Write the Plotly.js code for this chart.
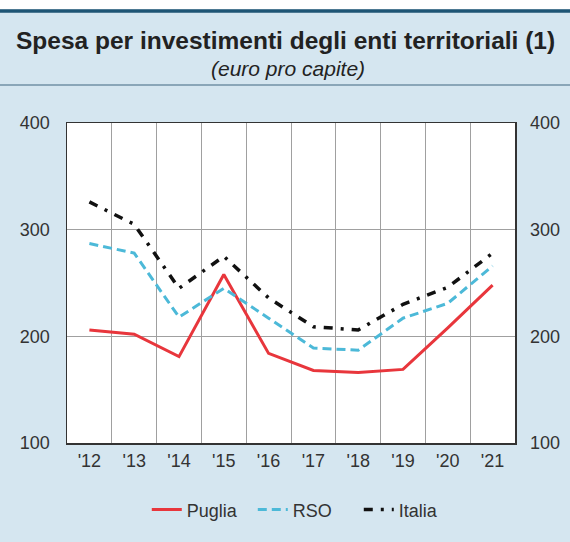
<!DOCTYPE html>
<html>
<head>
<meta charset="utf-8">
<script src="https://cdn.plot.ly/plotly-3.0.1.min.js"></script>
<style>html,body{margin:0;padding:0;background:#fff;}#chart{width:570px;height:542px;}</style>
</head>
<body>
<div id="chart"></div>
<script>
const years = ["'12","'13","'14","'15","'16","'17","'18","'19","'20","'21"];
const puglia = [206, 202, 181, 258, 184, 168, 166, 169, 208, 248];
const rso    = [287, 278, 218, 245, 217, 189, 187, 217, 231, 266];
const italia = [326, 305, 245, 275, 236, 209, 206, 230, 246, 278];
const yTicks = [100, 200, 300, 400];

const font = "Liberation Sans, Arial, sans-serif";
const traces = [
  {x: years, y: puglia, name: 'Puglia', mode: 'lines', line: {color: '#e8363c', width: 3}},
  {x: years, y: rso, name: 'RSO', mode: 'lines', line: {color: '#4cb9d8', width: 3, dash: '9px,5px'}},
  {x: years, y: italia, name: 'Italia', mode: 'lines', line: {color: '#111111', width: 3.5, dash: '9px,8px,3px,8px'}},
  {x: years, y: italia, yaxis: 'y2', mode: 'lines', showlegend: false, hoverinfo: 'skip', line: {color: 'rgba(0,0,0,0)', width: 0}}
];

const bg = '#d5e6f0';
const layout = {
  width: 570, height: 542,
  paper_bgcolor: bg, plot_bgcolor: '#ffffff',
  margin: {l: 67, r: 55, t: 123, b: 99},
  font: {family: font, size: 18, color: '#222'},
  showlegend: true,
  legend: {orientation: 'h', x: 0.533, xanchor: 'center', y: -0.209, yanchor: 'middle',
           font: {family: font, size: 18, color: '#333'}, itemwidth: 30, entrywidth: 61,
           bgcolor: 'rgba(0,0,0,0)'},
  xaxis: {type: 'category', tickson: 'boundaries', showgrid: true, gridcolor: '#a0a0a0', gridwidth: 1,
          ticks: '', showline: true, linecolor: '#333', linewidth: 1.5, mirror: true,
          tickfont: {size: 18, color: '#333'}, ticklabelstandoff: 1, range: [-0.5, 9.5]},
  yaxis: {range: [100, 400], tickvals: yTicks, ticktext: yTicks.map(String), showgrid: true,
          gridcolor: '#a0a0a0', gridwidth: 1, ticks: '', showline: true, linecolor: '#333', linewidth: 1.5,
          mirror: true, zeroline: false, tickfont: {size: 18, color: '#333'}, ticklabelstandoff: 12},
  yaxis2: {range: [100, 400], tickvals: yTicks, ticktext: yTicks.map(String), overlaying: 'y', side: 'right',
           showgrid: false, ticks: '', showline: false, zeroline: false,
           tickfont: {size: 18, color: '#333'}, ticklabelstandoff: 14},
  shapes: [
    {type: 'rect', xref: 'paper', yref: 'paper', x0: -0.16, x1: 1.13, y0: 1.3553, y1: 1.40,
     fillcolor: '#ffffff', line: {width: 0}, layer: 'below'},
    {type: 'rect', xref: 'paper', yref: 'paper', x0: -0.16, x1: 1.13, y0: 1.3447, y1: 1.3553,
     fillcolor: '#1e5575', line: {width: 0}, layer: 'below'},
    {type: 'line', xref: 'paper', yref: 'paper', x0: -0.16, x1: 1.13, y0: 1.11875, y1: 1.11875,
     line: {color: '#8aa6b8', width: 2}, layer: 'below'}
  ],
  annotations: [
    {text: '<b>Spesa per investimenti degli enti territoriali (1)</b>', xref: 'paper', yref: 'paper',
     x: (285-67)/448, y: (443-40)/320, xanchor: 'center', yanchor: 'middle', showarrow: false,
     font: {family: font, size: 24.5, color: '#222'}},
    {text: '<i>(euro pro capite)</i>', xref: 'paper', yref: 'paper',
     x: (288-67)/448, y: (443-68)/320, xanchor: 'center', yanchor: 'middle', showarrow: false,
     font: {family: font, size: 21, color: '#222'}}
  ]
};

Plotly.newPlot('chart', traces, layout, {displayModeBar: false, staticPlot: true});
</script>
</body>
</html>
